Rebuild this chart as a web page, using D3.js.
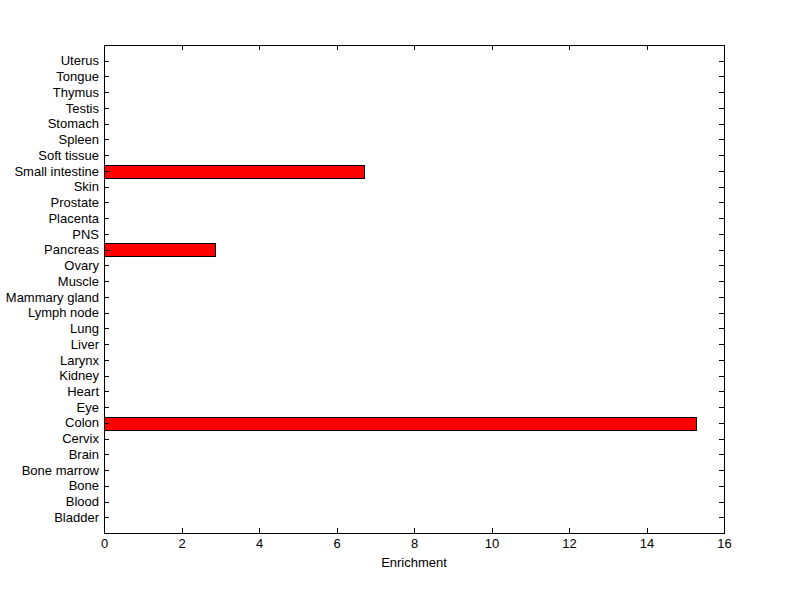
<!DOCTYPE html>
<meta charset="utf-8">
<style>
body { margin: 0; background: #fff; }
text { font-family: "Liberation Sans", Arial, sans-serif; font-size: 13px; fill: #000; }
.axis path, .axis line { stroke: #000; shape-rendering: crispEdges; }
.bar { fill: #ff0000; stroke: #000; stroke-width: 1px; shape-rendering: crispEdges; }
</style>
<body>
<script src="https://d3js.org/d3.v7.min.js"></script>
<script>

    // tissues, bottom to top
    let tissues = ["Bladder", "Blood", "Bone", "Bone marrow", "Brain", "Cervix", "Colon", "Eye",
        "Heart", "Kidney", "Larynx", "Liver", "Lung", "Lymph node", "Mammary gland", "Muscle",
        "Ovary", "Pancreas", "PNS", "Placenta", "Prostate", "Skin", "Small intestine",
        "Soft tissue", "Spleen", "Stomach", "Testis", "Thymus", "Tongue", "Uterus"];
    let enrichment = [0, 0, 0, 0, 0, 0, 15.27, 0, 0, 0, 0, 0, 0, 0, 0, 0,
        0, 2.87, 0, 0, 0, 0, 6.72, 0, 0, 0, 0, 0, 0, 0];
    let xTicks = [0, 2, 4, 6, 8, 10, 12, 14, 16];

    let margin = {top: 45, right: 76, bottom: 66, left: 104},
        width = 800 - margin.left - margin.right,
        height = 599 - margin.top - margin.bottom;

    let x = d3.scaleLinear().domain([0, 16]).range([0, width]);
    // MATLAB style: categories at 1..n, limits 0..n+1
    let y = d3.scaleLinear().domain([0, tissues.length + 1]).range([height, 0]);
    let barH = 0.8 * (y(0) - y(1));

    let svg = d3.select("body").append("svg")
        .attr("width", 800)
        .attr("height", 599)
        .append("g")
        .attr("transform", "translate(" + margin.left + "," + margin.top + ")");

    let data = tissues.map(function (t, i) { return {name: t, pos: i + 1, value: enrichment[i]}; })
        .filter(function (d) { return d.value > 0; });

    svg.selectAll(".bar").data(data)
        .enter().append("rect")
        .attr("class", "bar")
        .attr("x", x(0) + 0.5)
        .attr("y", function (d) { return Math.round(y(d.pos) - barH / 2) + 0.5; })
        .attr("width", function (d) { return Math.round(x(d.value) - x(0)); })
        .attr("height", Math.round(barH));

    let yVals = tissues.map(function (t, i) { return i + 1; });

    // left axis
    svg.append("g").attr("class", "axis")
        .call(d3.axisLeft(y).tickValues(yVals).tickSizeInner(-5).tickSizeOuter(0).tickPadding(5)
            .tickFormat(function (d) { return tissues[d - 1]; }));

    // right axis, ticks only
    svg.append("g").attr("class", "axis")
        .attr("transform", "translate(" + width + ",0)")
        .call(d3.axisRight(y).tickValues(yVals).tickSizeInner(-5).tickSizeOuter(0).tickFormat(""));

    // bottom axis
    svg.append("g").attr("class", "axis")
        .attr("transform", "translate(0," + height + ")")
        .call(d3.axisBottom(x).tickValues(xTicks).tickSizeInner(-5).tickSizeOuter(0).tickPadding(6)
            .tickFormat(d3.format("d")));

    // top axis, ticks only
    svg.append("g").attr("class", "axis")
        .call(d3.axisTop(x).tickValues(xTicks).tickSizeInner(-5).tickSizeOuter(0).tickFormat(""));

    svg.selectAll(".axis .domain").attr("stroke-width", 1);

    // axis title
    svg.append("text")
        .attr("x", width / 2)
        .attr("y", height + 34)
        .attr("text-anchor", "middle")
        .text("Enrichment");

</script>
</body>
